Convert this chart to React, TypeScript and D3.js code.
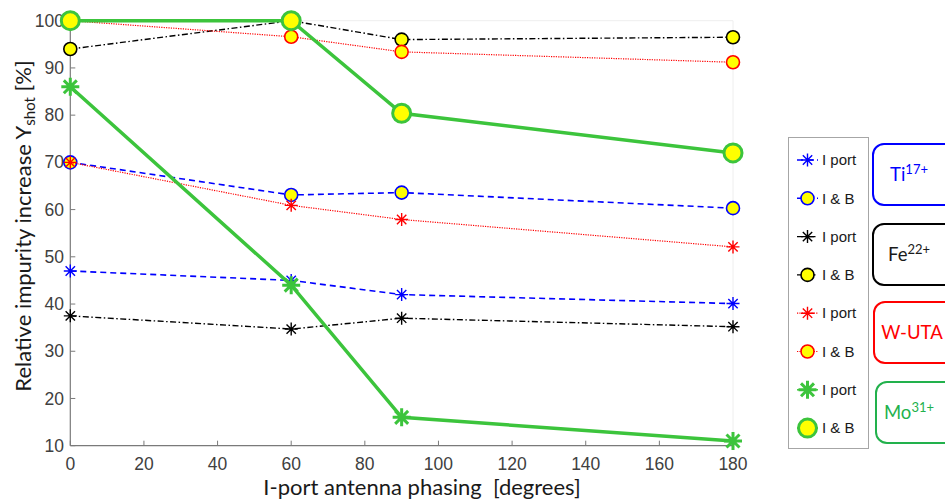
import React from "react";
import * as d3 from "d3";

const phasing = [0, 60, 90, 180];
const tiIport = [47, 45, 42, 40.1];
const tiIB = [70, 63.1, 63.6, 60.3];
const feIport = [37.5, 34.7, 37.0, 35.2];
const feIB = [94, 100, 96, 96.5];
const wIport = [70, 60.9, 57.9, 52.1];
const wIB = [100, 96.6, 93.4, 91.2];
const moIport = [86, 44, 16, 11];
const moIB = [100, 100, 80.4, 72];
const xTicks = [0, 20, 40, 60, 80, 100, 120, 140, 160, 180];
const yTicks = [10, 20, 30, 40, 50, 60, 70, 80, 90, 100];
const legendLabels = ["I port", "I & B", "I port", "I & B", "I port", "I & B", "I port", "I & B"];
const ionLabels = [
  { base: "Ti", sup: "17+" },
  { base: "Fe", sup: "22+" },
  { base: "W-UTA", sup: "" },
  { base: "Mo", sup: "31+" },
];

const BLUE = "#0000ff";
const BLACK = "#000000";
const RED = "#ff0000";
const GREEN = "#3cc43c";
const GREEN_BOX = "#22b14c";

type Style = { color: string; dash: string; width: number; marker: "star" | "circle"; size: number; mw: number };

const seriesDefs: { values: number[]; style: Style }[] = [
  { values: tiIport, style: { color: BLUE, dash: "6,4", width: 1.6, marker: "star", size: 6.5, mw: 1.4 } },
  { values: tiIB, style: { color: BLUE, dash: "6,4", width: 1.6, marker: "circle", size: 6.5, mw: 1.6 } },
  { values: feIport, style: { color: BLACK, dash: "6,2.5,1.5,2.5", width: 1.4, marker: "star", size: 6.5, mw: 1.4 } },
  { values: feIB, style: { color: BLACK, dash: "6,2.5,1.5,2.5", width: 1.4, marker: "circle", size: 6.5, mw: 1.6 } },
  { values: wIport, style: { color: RED, dash: "1.2,1.2", width: 1.2, marker: "star", size: 6.5, mw: 1.4 } },
  { values: wIB, style: { color: RED, dash: "1.2,1.2", width: 1.2, marker: "circle", size: 6.5, mw: 1.6 } },
  { values: moIport, style: { color: GREEN, dash: "", width: 3.5, marker: "star", size: 9, mw: 3 } },
  { values: moIB, style: { color: GREEN, dash: "", width: 3.5, marker: "circle", size: 9, mw: 3 } },
];

function starPath(h: number) {
  const d = h * 0.72;
  return `M${-h},0L${h},0M0,${-h}L0,${h}M${-d},${-d}L${d},${d}M${-d},${d}L${d},${-d}`;
}

function Marker({ x, y, s }: { x: number; y: number; s: Style }) {
  if (s.marker === "star") {
    return <path transform={`translate(${x},${y})`} d={starPath(s.size)} stroke={s.color} strokeWidth={s.mw} fill="none" />;
  }
  return <circle cx={x} cy={y} r={s.size} fill="#ffff00" stroke={s.color} strokeWidth={s.mw} />;
}

export default function App() {
  const W = 945, H = 502;
  const x = d3.scaleLinear().domain([0, 180]).range([70.3, 733]);
  const y = d3.scaleLinear().domain([10, 100]).range([445.7, 20.7]);
  const line = d3.line<[number, number]>().x((d) => x(d[0])).y((d) => y(d[1]));
  const tickFont = "'Liberation Sans', Arial, sans-serif";
  const titleFont = "Lato, 'Open Sans', sans-serif";

  const legendY0 = 160;
  const legendStep = 38.3;

  return (
    <svg width={W} height={H} style={{ position: "absolute", left: 0, top: 0, background: "#fff" }}>
      {/* plot box */}
      <line x1={x(0)} x2={x(180)} y1={y(100)} y2={y(100)} stroke="#eeeeee" strokeWidth={1} />
      <line x1={x(180)} x2={x(180)} y1={y(100)} y2={y(10)} stroke="#eeeeee" strokeWidth={1} />
      <line x1={x(0)} x2={x(0)} y1={y(100)} y2={y(10)} stroke="#7a7a7a" strokeWidth={1.2} />
      <line x1={x(0)} x2={x(180)} y1={y(10)} y2={y(10)} stroke="#7a7a7a" strokeWidth={1.2} />
      {xTicks.map((t) => (
        <g key={"xt" + t}>
          <line x1={x(t)} x2={x(t)} y1={y(10)} y2={y(10) - 5} stroke="#7a7a7a" strokeWidth={1} />
          <text x={x(t)} y={470} textAnchor="middle" fontFamily={tickFont} fontSize={17.5} fill="#404040">{t}</text>
        </g>
      ))}
      {yTicks.map((t) => (
        <g key={"yt" + t}>
          <line x1={x(0)} x2={x(0) + 5} y1={y(t)} y2={y(t)} stroke="#7a7a7a" strokeWidth={1} />
          <text x={64} y={y(t)} dy="0.35em" textAnchor="end" fontFamily={tickFont} fontSize={17.5} fill="#404040">{t}</text>
        </g>
      ))}
      {/* series */}
      {seriesDefs.map((sd, i) => (
        <g key={"s" + i}>
          <path
            d={line(phasing.map((p, j) => [p, sd.values[j]] as [number, number])) || ""}
            fill="none"
            stroke={sd.style.color}
            strokeWidth={sd.style.width}
            strokeDasharray={sd.style.dash || undefined}
          />
          {phasing.map((p, j) => (
            <Marker key={j} x={x(p)} y={y(sd.values[j])} s={sd.style} />
          ))}
        </g>
      ))}
      {/* axis titles */}
      <text x={422} y={495} textAnchor="middle" fontFamily={titleFont} fontSize={22} fill="#1a1a1a" style={{ whiteSpace: "pre" }}>
        I-port antenna phasing  [degrees]
      </text>
      <text transform="translate(31,226) rotate(-90)" textAnchor="middle" fontFamily={titleFont} fontSize={22} fill="#1a1a1a">
        Relative impurity increase Y<tspan dy={4} fontSize={15}>shot</tspan>
        <tspan dy={-4}> [%]</tspan>
      </text>
      {/* legend */}
      <rect x={788.5} y={137.5} width={80} height={311} fill="#fff" stroke="#a6a6a6" strokeWidth={1} />
      {seriesDefs.map((sd, i) => {
        const ly = legendY0 + i * legendStep;
        return (
          <g key={"lg" + i}>
            <line x1={797} x2={818} y1={ly} y2={ly} stroke={sd.style.color} strokeWidth={Math.min(sd.style.width, 1.5)} strokeDasharray={sd.style.dash || undefined} />
            <Marker x={807.5} y={ly} s={sd.style} />
            <text x={822} y={ly} dy="0.35em" fontFamily={tickFont} fontSize={15} fill="#1a1a1a">{legendLabels[i]}</text>
          </g>
        );
      })}
      {/* ion boxes */}
      {ionLabels.map((lab, i) => {
        const colors = [BLUE, BLACK, RED, GREEN_BOX];
        const tops = [144, 224, 302, 382];
        const lefts = [873, 873, 874, 876];
        const cy = tops[i] + 30;
        const textColor = i === 1 ? "#1a1a1a" : colors[i];
        return (
          <g key={"ion" + i}>
            <rect x={lefts[i]} y={tops[i]} width={90} height={61} rx={11} fill="#fff" stroke={colors[i]} strokeWidth={2} />
            <text x={lab.sup ? 909 : 912} y={cy + 7} textAnchor="middle" fontFamily={titleFont} fontSize={18.5} fill={textColor}>
              {lab.base}
              {lab.sup ? <tspan dy={-7} fontSize={13}>{lab.sup}</tspan> : null}
            </text>
          </g>
        );
      })}
    </svg>
  );
}
